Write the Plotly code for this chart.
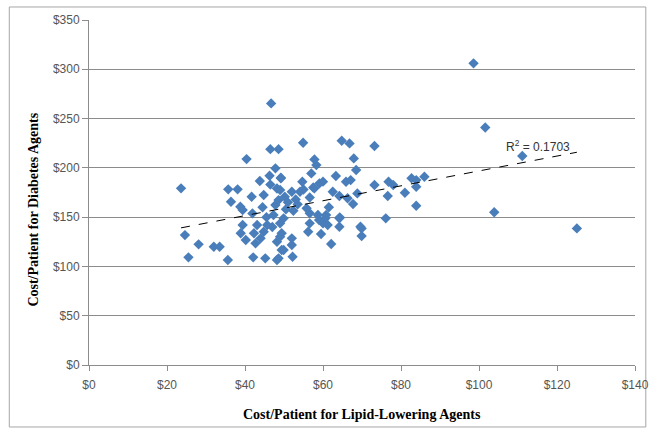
import numpy as np
import plotly.graph_objects as go

# Cost per patient: lipid-lowering agents (x) vs diabetes agents (y), by practice
lipid_cost = [
    98.6, 101.6, 111.1, 103.9, 125.1, 86.0, 83.9, 83.9, 83.9, 82.7, 81.0, 78.0, 76.8, 76.6, 76.1, 73.2, 73.2,
    46.7, 46.5, 48.6, 40.4, 47.8, 46.3, 49.2, 43.8, 46.5, 23.6, 35.7, 38.1, 48.2,
    41.7, 44.8, 36.4, 38.8, 39.4, 50.2, 47.8, 47.3, 41.9, 39.4, 43.1, 45.7, 49.0,
    38.9, 42.3, 44.8, 40.2, 42.7, 44.0, 48.2, 49.4, 24.6, 28.1, 32.0, 33.5, 25.5,
    35.6, 42.1, 45.2, 48.2, 49.9,
    54.9, 64.8, 66.8, 57.8, 58.3, 67.9, 68.5, 57.0, 63.3, 65.9, 67.1, 49.2, 54.7,
    59.1, 57.8, 52.0, 54.1, 56.6, 62.5, 64.2, 66.3, 68.8, 67.7, 49.0, 48.6, 52.4,
    55.8, 59.0, 60.6, 64.2, 69.6, 56.6, 58.7, 60.8, 64.3, 49.9, 56.6, 60.0, 61.2,
    64.2, 69.9, 69.9, 56.2, 59.5, 62.1, 52.0, 52.0, 49.0, 49.4, 52.2, 48.6,
    51.0, 53.0, 55.0, 57.5, 60.0, 61.5, 50.5, 53.5, 45.5, 44.5, 47.0,
]
diabetes_cost = [
    306.0, 241.0, 212.0, 154.9, 138.6, 191.0, 187.6, 180.8, 161.6, 189.4, 174.7, 182.6, 185.9, 171.4, 148.8, 222.1, 182.6,
    265.4, 219.0, 219.0, 208.9, 199.5, 192.0, 190.0, 186.6, 183.0, 179.2, 178.2, 178.2, 179.0,
    170.7, 172.4, 165.6, 160.5, 157.2, 170.7, 162.3, 152.1, 153.8, 142.0, 142.0, 142.0, 143.7,
    133.6, 133.6, 135.2, 126.8, 123.4, 128.5, 125.0, 133.6, 131.8, 122.4, 120.0, 120.0, 109.2,
    106.5, 109.2, 108.2, 106.5, 116.6,
    225.5, 227.5, 224.8, 208.6, 202.8, 209.6, 197.8, 194.4, 191.7, 185.9, 187.6, 189.4, 185.9,
    184.3, 179.2, 175.8, 175.8, 170.0, 175.8, 171.4, 169.1, 174.1, 163.3, 177.5, 167.3, 156.5,
    158.9, 147.1, 148.8, 148.8, 140.3, 153.9, 152.1, 152.1, 149.8, 148.8, 143.7, 143.7, 142.0,
    140.3, 138.6, 130.8, 135.2, 132.9, 122.7, 128.5, 121.7, 130.1, 116.6, 109.8, 108.2,
    165.0, 168.0, 178.0, 180.0, 186.0, 160.0, 158.0, 163.0, 150.0, 160.0, 140.0,
]

x_ticks = [0, 20, 40, 60, 80, 100, 120, 140]
y_ticks = [0, 50, 100, 150, 200, 250, 300, 350]
r2_text = "R<sup>2</sup> = 0.1703"

x = np.array(lipid_cost)
y = np.array(diabetes_cost)
slope, intercept = np.polyfit(x, y, 1)
fit_x = np.array([x.min(), x.max()])
fit_y = slope * fit_x + intercept

marker_color = "#4A7EBB"
grid_color = "#8C8C8C"
tick_font = dict(family="Liberation Sans, Arial", size=12, color="#555555")
title_font = dict(family="Liberation Serif, Times New Roman", size=14, color="#000000")

fig = go.Figure()
fig.add_trace(go.Scatter(
    x=x, y=y, mode="markers",
    marker=dict(symbol="diamond", size=8, color=marker_color, line=dict(width=0)),
    showlegend=False, hoverinfo="x+y",
))
fig.add_trace(go.Scatter(
    x=fit_x, y=fit_y, mode="lines",
    line=dict(color="#000000", width=1, dash="dash"),
    showlegend=False, hoverinfo="skip",
))

fig.add_annotation(
    x=115, y=222, xref="x", yref="y", text=r2_text, showarrow=False,
    font=dict(family="Liberation Sans, Arial", size=12, color="#333333"),
)
fig.add_annotation(
    x=-0.101, y=0.45, xref="paper", yref="paper", xanchor="center", yanchor="middle",
    text="<b>Cost/Patient for Diabetes Agents</b>",
    textangle=-90, showarrow=False, font=title_font,
)
fig.add_annotation(
    x=0.5, y=-0.115, xref="paper", yref="paper", xanchor="center", yanchor="top",
    text="<b>Cost/Patient for Lipid-Lowering Agents</b>",
    showarrow=False, font=title_font,
)

# Outer chart frame
fig.add_shape(
    type="rect", xref="paper", yref="paper",
    x0=-0.146, x1=1.0198, y0=-0.1797, y1=1.0377,
    line=dict(color="#A6A6A6", width=1), fillcolor="rgba(0,0,0,0)", layer="below",
)

fig.update_layout(
    width=661, height=435,
    margin=dict(l=89, r=17, t=20, b=70),
    paper_bgcolor="white", plot_bgcolor="white",
    xaxis=dict(
        range=[0, 140], tickvals=x_ticks, ticktext=[f"${v}" for v in x_ticks],
        showgrid=False, zeroline=False, showline=True, linecolor=grid_color, linewidth=1,
        ticks="outside", ticklen=5, tickcolor=grid_color, tickfont=tick_font,
        ticklabelstandoff=4,
    ),
    yaxis=dict(
        range=[0, 350], tickvals=y_ticks, ticktext=[f"${v}" for v in y_ticks],
        showgrid=True, gridcolor=grid_color, gridwidth=1, zeroline=False,
        showline=True, linecolor=grid_color, linewidth=1,
        ticks="outside", ticklen=6, tickcolor=grid_color, tickfont=tick_font,
    ),
)

fig.write_html("out.html")
